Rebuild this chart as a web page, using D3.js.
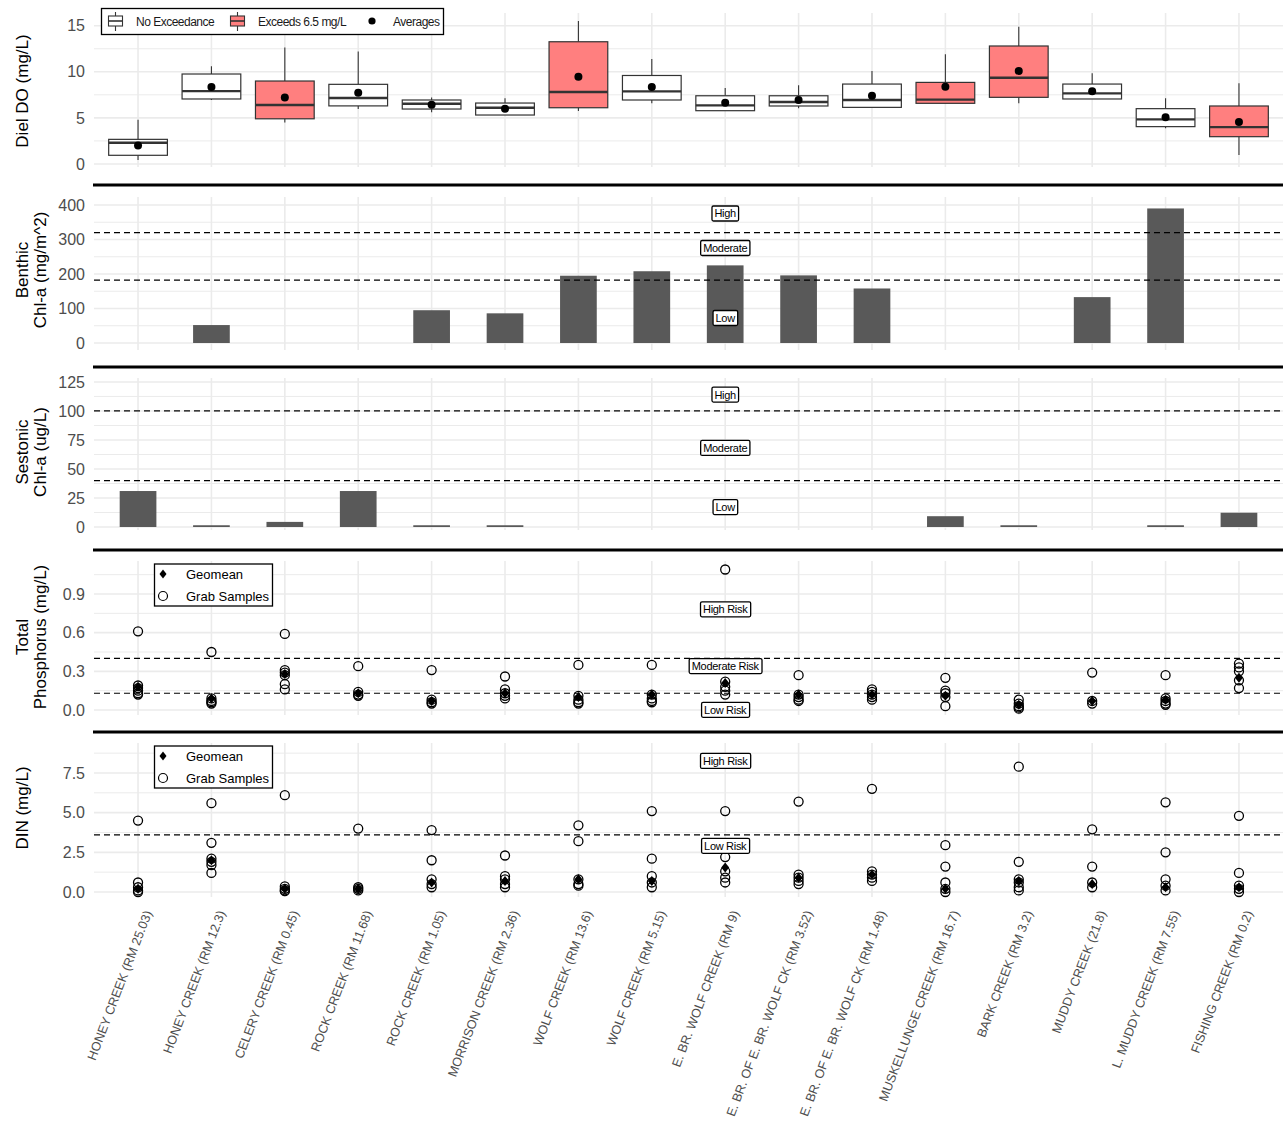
<!DOCTYPE html>
<html>
<head>
<meta charset="utf-8">
<script src="https://cdn.jsdelivr.net/npm/d3@7"></script>
<style>
  html, body { margin: 0; padding: 0; background: #fff; }
  svg text { font-family: "Liberation Sans", Arial, sans-serif; }
</style>
</head>
<body>
<svg id="chart" width="1283" height="1125"></svg>
<script>
// ---- Monitoring sites (x axis) ----
const sites = [
  "HONEY CREEK (RM 25.03)", "HONEY CREEK (RM 12.3)", "CELERY CREEK (RM 0.45)",
  "ROCK CREEK (RM 11.68)", "ROCK CREEK (RM 1.05)", "MORRISON CREEK (RM 2.36)",
  "WOLF CREEK (RM 13.6)", "WOLF CREEK (RM 5.15)", "E. BR. WOLF CREEK (RM 9)",
  "E. BR. OF E. BR. WOLF CK (RM 3.52)", "E. BR. OF E. BR. WOLF CK (RM 1.48)",
  "MUSKELLUNGE CREEK (RM 16.7)", "BARK CREEK (RM 3.2)", "MUDDY CREEK (21.8)",
  "L. MUDDY CREEK (RM 7.55)", "FISHING CREEK (RM 0.2)"
];

// ---- Diel dissolved oxygen (mg/L): box statistics per site ----
const doWhiskerLow  = [0.43, 6.95, 4.5, 5.96, 5.6, 5.3, 5.75, 6.58, 5.78, 6.04, 6.14, 6.58, 6.58, 7.05, 3.87, 0.98];
const doQ1          = [0.94, 7.05, 4.9, 6.3, 5.96, 5.31, 6.1, 6.94, 5.78, 6.29, 6.14, 6.58, 7.23, 7.05, 4.05, 2.96];
const doMedian      = [2.3, 7.9, 6.4, 7.15, 6.54, 6.1, 7.8, 7.88, 6.36, 6.72, 6.94, 6.98, 9.36, 7.66, 4.84, 4.0];
const doQ3          = [2.67, 9.76, 9.0, 8.64, 6.94, 6.61, 13.26, 9.6, 7.4, 7.4, 8.67, 8.85, 12.8, 8.67, 6.0, 6.29];
const doWhiskerHigh = [4.8, 10.6, 12.65, 12.2, 7.2, 7.12, 15.5, 11.4, 8.24, 8.53, 10.1, 11.9, 14.9, 9.83, 7.12, 8.75];
const doAverage     = [2.0, 8.35, 7.2, 7.73, 6.43, 6.0, 9.47, 8.35, 6.65, 6.94, 7.4, 8.38, 10.1, 7.9, 5.06, 4.55];
const doExceeds     = [false, false, true, false, false, false, true, false, false, false, false, true, true, false, false, true];
const doLegend      = ["No Exceedance", "Exceeds 6.5 mg/L", "Averages"];

// ---- Benthic chlorophyll-a (mg/m^2) ----
const benthicChla = [null, 52, null, null, 95, 86, 195, 208, 225, 196, 158, null, null, 133, 390, null];
const benthicThresholds = [320, 182];
const benthicLabels = [["High", 375], ["Moderate", 275], ["Low", 72]];

// ---- Sestonic chlorophyll-a (ug/L) ----
const sestonicChla = [31, 1.5, 4.4, 31, 1.5, 1.5, null, null, null, null, null, 9.3, 1.5, null, 1.5, 12.3];
const sestonicThresholds = [100, 40];
const sestonicLabels = [["High", 114], ["Moderate", 68], ["Low", 17]];

// ---- Total phosphorus (mg/L) ----
const tpGrab = [
  [0.61, 0.19, 0.17, 0.15, 0.13, 0.12],
  [0.45, 0.09, 0.07, 0.06, 0.05],
  [0.59, 0.31, 0.29, 0.27, 0.20, 0.16],
  [0.34, 0.14, 0.12, 0.11],
  [0.31, 0.08, 0.06, 0.05],
  [0.26, 0.16, 0.13, 0.11, 0.09],
  [0.35, 0.11, 0.08, 0.06, 0.05],
  [0.35, 0.12, 0.09, 0.07, 0.06],
  [1.09, 0.22, 0.18, 0.15, 0.12],
  [0.27, 0.12, 0.10, 0.08, 0.07],
  [0.16, 0.14, 0.12, 0.10, 0.08],
  [0.25, 0.15, 0.13, 0.10, 0.03],
  [0.08, 0.05, 0.03, 0.02, 0.01],
  [0.29, 0.07, 0.05],
  [0.27, 0.09, 0.07, 0.05, 0.04],
  [0.36, 0.33, 0.30, 0.23, 0.17]
];
const tpGeomean = [0.18, 0.09, 0.28, 0.13, 0.07, 0.13, 0.10, 0.12, 0.21, 0.12, 0.12, 0.11, 0.04, 0.07, 0.08, 0.25];
const tpThresholds = [0.40, 0.13];
const tpLabels = [["High Risk", 0.78], ["Moderate Risk", 0.34], ["Low Risk", 0.0]];

// ---- Dissolved inorganic nitrogen (mg/L) ----
const dinGrab = [
  [4.5, 0.6, 0.3, 0.1, 0.0],
  [5.6, 3.1, 2.1, 1.9, 1.7, 1.2],
  [6.1, 0.35, 0.2, 0.1, 0.05],
  [4.0, 0.3, 0.2, 0.1],
  [3.9, 2.0, 0.8, 0.5, 0.3],
  [2.3, 1.0, 0.8, 0.5, 0.3],
  [4.2, 3.2, 0.8, 0.5, 0.4],
  [5.1, 2.1, 1.0, 0.6, 0.3],
  [5.1, 2.2, 1.3, 0.9, 0.6],
  [5.7, 1.1, 0.9, 0.7, 0.5],
  [6.5, 1.3, 1.1, 0.9, 0.7],
  [2.95, 1.6, 0.6, 0.2, 0.0],
  [7.9, 1.9, 0.8, 0.6, 0.3, 0.1],
  [3.95, 1.6, 0.6, 0.3],
  [5.65, 2.5, 0.8, 0.4, 0.1],
  [4.8, 1.2, 0.4, 0.2, 0.0]
];
const dinGeomean = [0.2, 2.0, 0.2, 0.2, 0.6, 0.7, 0.8, 0.7, 1.55, 0.9, 1.1, 0.2, 0.7, 0.5, 0.3, 0.3];
const dinThresholds = [3.6];
const dinLabels = [["High Risk", 8.25], ["Low Risk", 2.9]];
const pointLegend = ["Geomean", "Grab Samples"];

// ---- Layout ----
const svg = d3.select("#chart");
const left = 94, right = 1283;
const gridColor = "#EBEBEB";
const tickColor = "#4D4D4D";

const x = d3.scalePoint().domain(sites).range([left, right]).padding(0.6);
const step = x.step();
const labelSite = sites[8];

const panels = [
  { key: "do",  top: 13,  bottom: 167, domain: [-0.33, 16.38], ticks: [0, 5, 10, 15], fmt: d3.format("d"),
    title: ["Diel DO (mg/L)"], titleY: 91 },
  { key: "ben", top: 197, bottom: 350, domain: [-20.3, 423.2], ticks: [0, 100, 200, 300, 400], fmt: d3.format("d"),
    title: ["Benthic", "Chl-a (mg/m^2)"], titleY: 270 },
  { key: "ses", top: 378, bottom: 530, domain: [-2.59, 128.4], ticks: [0, 25, 50, 75, 100, 125], fmt: d3.format("d"),
    title: ["Sestonic", "Chl-a (ug/L)"], titleY: 452 },
  { key: "tp",  top: 561, bottom: 715, domain: [-0.0388, 1.156], ticks: [0, 0.3, 0.6, 0.9], fmt: d3.format(".1f"),
    title: ["Total", "Phosphorus (mg/L)"], titleY: 637 },
  { key: "din", top: 743, bottom: 897, domain: [-0.315, 9.39], ticks: [0, 2.5, 5, 7.5], fmt: d3.format(".1f"),
    title: ["DIN (mg/L)"], titleY: 808 }
];

panels.forEach(p => {
  p.y = d3.scaleLinear().domain(p.domain).range([p.bottom, p.top]);
  const g = svg.append("g").attr("class", "panel-" + p.key);
  p.g = g;
  // minor grid: midpoints between major ticks
  const t = p.ticks, d = t[1] - t[0];
  const minor = [];
  for (let v = t[0] - d / 2; v <= p.domain[1]; v += d) if (v >= p.domain[0]) minor.push(v);
  g.selectAll(".minor").data(minor).join("line")
    .attr("x1", left).attr("x2", right)
    .attr("y1", v => p.y(v)).attr("y2", v => p.y(v))
    .attr("stroke", gridColor).attr("stroke-width", 1);
  g.selectAll(".major").data(t).join("line")
    .attr("x1", left).attr("x2", right)
    .attr("y1", v => p.y(v)).attr("y2", v => p.y(v))
    .attr("stroke", gridColor).attr("stroke-width", 1.6);
  g.selectAll(".vgrid").data(sites).join("line")
    .attr("x1", s => x(s)).attr("x2", s => x(s))
    .attr("y1", p.top).attr("y2", p.bottom)
    .attr("stroke", gridColor).attr("stroke-width", 1.6);
  // y axis tick labels
  const axis = d3.axisLeft(p.y).tickValues(t).tickFormat(p.fmt).tickSize(0).tickPadding(0);
  const ax = g.append("g").attr("transform", `translate(${left - 9},0)`).call(axis);
  ax.select(".domain").remove();
  ax.selectAll("text").attr("fill", tickColor).style("font-size", "16px")
    .style("font-family", "'Liberation Sans', Arial, sans-serif");
  // y axis title
  const n = p.title.length;
  p.title.forEach((line, i) => {
    const bx = n === 1 ? 28 : 28 + i * 18;
    g.append("text")
      .attr("transform", `translate(${bx},${p.titleY}) rotate(-90)`)
      .attr("text-anchor", "middle")
      .attr("fill", "#000")
      .style("font-size", "17px")
      .text(line);
  });
});

// separators between panels
[185, 367, 550, 732].forEach(yy => {
  svg.append("line").attr("x1", 93).attr("x2", right).attr("y1", yy).attr("y2", yy)
    .attr("stroke", "#000").attr("stroke-width", 3);
});

function thresholdLines(p, values) {
  p.g.selectAll(".thr").data(values).join("line")
    .attr("x1", left).attr("x2", right)
    .attr("y1", v => p.y(v)).attr("y2", v => p.y(v))
    .attr("stroke", "#000").attr("stroke-width", 1.2)
    .attr("stroke-dasharray", "6,4");
}

function riskLabels(p, labels) {
  labels.forEach(([txt, v]) => {
    const gx = p.g.append("g").attr("transform", `translate(${x(labelSite)},${p.y(v)})`);
    const t = gx.append("text").attr("text-anchor", "middle").attr("dy", "0.35em")
      .style("font-size", "11px").style("letter-spacing", "-0.3px").attr("fill", "#000").text(txt);
    const bb = t.node().getBBox();
    gx.insert("rect", "text")
      .attr("x", bb.x - 2.5).attr("y", bb.y - 1.5)
      .attr("width", bb.width + 5).attr("height", bb.height + 3)
      .attr("rx", 1.5).attr("fill", "#fff").attr("stroke", "#000").attr("stroke-width", 1.3);
  });
}

// ---- Panel 1: Diel DO boxplots ----
(function () {
  const p = panels[0], g = p.g, y = p.y;
  const bw = step * 0.8;
  const idx = d3.range(sites.length);
  g.selectAll(".whisk").data(idx).join("g").each(function (i) {
    const cx = x(sites[i]);
    const s = d3.select(this);
    s.append("line").attr("x1", cx).attr("x2", cx).attr("y1", y(doWhiskerHigh[i])).attr("y2", y(doQ3[i]))
      .attr("stroke", "#333").attr("stroke-width", 1.1);
    s.append("line").attr("x1", cx).attr("x2", cx).attr("y1", y(doQ1[i])).attr("y2", y(doWhiskerLow[i]))
      .attr("stroke", "#333").attr("stroke-width", 1.1);
    s.append("rect").attr("x", cx - bw / 2).attr("width", bw)
      .attr("y", y(doQ3[i])).attr("height", y(doQ1[i]) - y(doQ3[i]))
      .attr("fill", doExceeds[i] ? "#FF7F7F" : "#fff").attr("stroke", "#333").attr("stroke-width", 1.2);
    s.append("line").attr("x1", cx - bw / 2).attr("x2", cx + bw / 2).attr("y1", y(doMedian[i])).attr("y2", y(doMedian[i]))
      .attr("stroke", "#333").attr("stroke-width", 2.4);
    s.append("circle").attr("cx", cx).attr("cy", y(doAverage[i])).attr("r", 4).attr("fill", "#000");
  });

  // legend
  const lg = svg.append("g").attr("class", "do-legend");
  lg.append("rect").attr("x", 101.5).attr("y", 8.5).attr("width", 342).attr("height", 26)
    .attr("fill", "#fff").attr("stroke", "#000").attr("stroke-width", 1.3);
  const keys = [{ x: 115.5, fill: "#fff" }, { x: 237.5, fill: "#FF7F7F" }];
  keys.forEach(k => {
    lg.append("line").attr("x1", k.x).attr("x2", k.x).attr("y1", 12).attr("y2", 31).attr("stroke", "#333").attr("stroke-width", 1.1);
    lg.append("rect").attr("x", k.x - 7).attr("y", 16).attr("width", 14).attr("height", 10)
      .attr("fill", k.fill).attr("stroke", "#333").attr("stroke-width", 1.1);
    lg.append("line").attr("x1", k.x - 7).attr("x2", k.x + 7).attr("y1", 21).attr("y2", 21).attr("stroke", "#333").attr("stroke-width", 1.6);
  });
  lg.append("circle").attr("cx", 372).attr("cy", 21).attr("r", 3.6).attr("fill", "#000");
  [[136, doLegend[0]], [258, doLegend[1]], [393, doLegend[2]]].forEach(([tx, txt]) => {
    lg.append("text").attr("x", tx).attr("y", 26).style("font-size", "12px")
      .style("letter-spacing", "-0.5px").attr("fill", "#1a1a1a").text(txt);
  });
})();

// ---- Panels 2 & 3: bar charts ----
function barPanel(p, values) {
  const bw = step * 0.5;
  const data = values.map((v, i) => ({ s: sites[i], v })).filter(d => d.v !== null);
  p.g.selectAll(".bar").data(data).join("rect")
    .attr("x", d => x(d.s) - bw / 2).attr("width", bw)
    .attr("y", d => p.y(d.v)).attr("height", d => p.y(0) - p.y(d.v))
    .attr("fill", "#595959");
}
barPanel(panels[1], benthicChla);
thresholdLines(panels[1], benthicThresholds);
riskLabels(panels[1], benthicLabels);

barPanel(panels[2], sestonicChla);
thresholdLines(panels[2], sestonicThresholds);
riskLabels(panels[2], sestonicLabels);

// ---- Panels 4 & 5: grab samples and geomeans ----
const diamond = (cx, cy, w, h) => `M${cx},${cy - h}L${cx + w},${cy}L${cx},${cy + h}L${cx - w},${cy}Z`;

function pointPanel(p, grab, geo) {
  const pts = [];
  grab.forEach((arr, i) => arr.forEach(v => pts.push({ s: sites[i], v })));
  p.g.selectAll(".geo").data(geo.map((v, i) => ({ s: sites[i], v }))).join("path")
    .attr("d", d => diamond(x(d.s), p.y(d.v), 4, 5)).attr("fill", "#000");
  p.g.selectAll(".grab").data(pts).join("circle")
    .attr("cx", d => x(d.s)).attr("cy", d => p.y(d.v)).attr("r", 4.5)
    .attr("fill", "none").attr("stroke", "#000").attr("stroke-width", 1.3);
}

function pointLegend_(p, top) {
  const lg = p.g.append("g");
  lg.append("rect").attr("x", 154.5).attr("y", top).attr("width", 118).attr("height", 42)
    .attr("fill", "#fff").attr("stroke", "#000").attr("stroke-width", 1.3);
  lg.append("path").attr("d", diamond(163, top + 10, 3.5, 4.5)).attr("fill", "#000");
  lg.append("circle").attr("cx", 163).attr("cy", top + 32).attr("r", 4.5)
    .attr("fill", "none").attr("stroke", "#000").attr("stroke-width", 1.2);
  lg.append("text").attr("x", 186).attr("y", top + 15).style("font-size", "13px").attr("fill", "#000").text(pointLegend[0]);
  lg.append("text").attr("x", 186).attr("y", top + 37).style("font-size", "13px").attr("fill", "#000").text(pointLegend[1]);
}

thresholdLines(panels[3], tpThresholds);
pointPanel(panels[3], tpGrab, tpGeomean);
riskLabels(panels[3], tpLabels);
pointLegend_(panels[3], 564);

thresholdLines(panels[4], dinThresholds);
pointPanel(panels[4], dinGrab, dinGeomean);
riskLabels(panels[4], dinLabels);
pointLegend_(panels[4], 746);

// ---- x axis labels (rotated) ----
svg.append("g").attr("class", "x-labels").selectAll("text").data(sites).join("text")
  .attr("transform", s => `translate(${x(s) + 10},${911}) rotate(-69)`)
  .attr("text-anchor", "end")
  .attr("dy", "0.35em")
  .attr("fill", tickColor)
  .style("font-size", "12.7px")
  .text(s => s);
</script>
</body>
</html>
